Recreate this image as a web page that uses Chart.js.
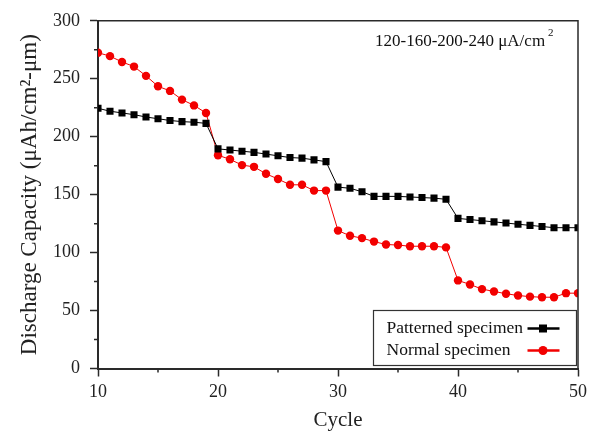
<!DOCTYPE html>
<html>
<head>
<meta charset="utf-8">
<script src="https://cdn.jsdelivr.net/npm/chart.js@4.4.1/dist/chart.umd.min.js"></script>
<style>
  body { margin: 0; background: #fff; }
  #wrap { width: 597px; height: 431px; }
</style>
</head>
<body>
<div id="wrap"><canvas id="capacity"></canvas></div>
<script>
const cycles = [10, 11, 12, 13, 14, 15, 16, 17, 18, 19, 20, 21, 22, 23, 24, 25, 26, 27, 28, 29, 30,
  31, 32, 33, 34, 35, 36, 37, 38, 39, 40, 41, 42, 43, 44, 45, 46, 47, 48, 49, 50];
const patterned = [224.5, 222, 220.5, 219, 217, 215.5, 214, 213, 212.5, 211.5,
  189.5, 188.5, 187.5, 186.5, 185, 183.5, 182, 181.5, 180, 178.5,
  156.5, 155.5, 152.5, 148.5, 148.5, 148.5, 148, 147.5, 147, 146,
  129.5, 128.5, 127.5, 126.5, 125.5, 124.5, 123.5, 122.5, 121.5, 121.5, 121.5];
const normal = [272.5, 269.5, 264.5, 260.5, 252.5, 243.5, 239.5, 232, 227, 220.5,
  184, 180.5, 175.5, 174, 168, 163.5, 158.5, 158.5, 153.5, 153.5,
  119, 114.5, 112.5, 109.5, 107, 106.5, 105.5, 105.5, 105.5, 104.5,
  76, 72.5, 68.5, 66.5, 64.5, 63, 62, 61.5, 61.5, 65, 65];
const seriesNames = ['Patterned specimen', 'Normal specimen'];
const xTicks = [10, 20, 30, 40, 50];
const yTicks = [0, 50, 100, 150, 200, 250, 300];
const currentNote = '120-160-200-240 \u03bcA/cm';

const serif = "'Liberation Serif', 'Times New Roman', serif";
const axisColor = '#2a2a2a';

function toPoints(values) {
  return cycles.map((c, i) => ({ x: c, y: values[i] }));
}

// frame, minor ticks, note and legend box
const extras = {
  id: 'extras',
  afterDraw(chart) {
    const ctx = chart.ctx;
    const a = chart.chartArea;
    const xs = chart.scales.x, ys = chart.scales.y;
    ctx.save();
    ctx.strokeStyle = axisColor;
    ctx.lineWidth = 1.5;
    ctx.beginPath();
    ctx.moveTo(a.left, a.top); ctx.lineTo(a.right, a.top); ctx.lineTo(a.right, a.bottom);
    ctx.stroke();

    // minor ticks
    ctx.beginPath();
    for (let v = 15; v < 50; v += 10) {
      const px = xs.getPixelForValue(v);
      ctx.moveTo(px, a.bottom); ctx.lineTo(px, a.bottom + 4);
    }
    for (let v = 25; v < 300; v += 50) {
      const py = ys.getPixelForValue(v);
      ctx.moveTo(a.left, py); ctx.lineTo(a.left - 4, py);
    }
    ctx.stroke();

    // current density note
    ctx.fillStyle = '#111';
    ctx.font = '17px ' + serif;
    ctx.textBaseline = 'alphabetic';
    ctx.textAlign = 'left';
    const noteX = a.right - 203;
    ctx.fillText(currentNote, noteX, a.top + 25);
    const w = ctx.measureText(currentNote).width;
    ctx.font = '11px ' + serif;
    ctx.fillText('2', noteX + w + 3, a.top + 15);

    // legend
    const bx = a.right - 204.5, by = a.bottom - 58;
    ctx.strokeStyle = '#333';
    ctx.lineWidth = 1.2;
    ctx.strokeRect(bx, by, 203, 55);
    ctx.font = '17.5px ' + serif;
    const sets = chart.data.datasets;
    for (let i = 0; i < sets.length; i++) {
      const ty = by + 22 + i * 22;
      ctx.fillStyle = '#111';
      ctx.fillText(seriesNames[i], bx + 13, ty);
      const ly = ty - 4;
      ctx.strokeStyle = sets[i].borderColor;
      ctx.lineWidth = 2.5;
      ctx.beginPath();
      ctx.moveTo(bx + 154, ly); ctx.lineTo(bx + 186, ly);
      ctx.stroke();
      ctx.fillStyle = sets[i].pointBackgroundColor;
      ctx.beginPath();
      if (sets[i].pointStyle === 'rect') {
        ctx.rect(bx + 165.5, ly - 4, 8, 8);
      } else {
        ctx.arc(bx + 169.5, ly, 4.5, 0, Math.PI * 2);
      }
      ctx.fill();
    }
    ctx.restore();
  }
};

new Chart(document.getElementById('capacity'), {
  type: 'line',
  data: {
    datasets: [
      {
        label: seriesNames[0],
        data: toPoints(patterned),
        borderColor: '#000',
        borderWidth: 1,
        pointStyle: 'rect',
        pointRadius: 5,
        pointBackgroundColor: '#000',
        pointBorderWidth: 0,
      },
      {
        label: seriesNames[1],
        data: toPoints(normal),
        borderColor: '#f20000',
        borderWidth: 1,
        pointStyle: 'circle',
        pointRadius: 4.2,
        pointBackgroundColor: '#f20000',
        pointBorderWidth: 0,
      }
    ]
  },
  options: {
    responsive: true,
    maintainAspectRatio: false,
    animation: false,
    layout: { padding: { top: 18, right: 19, left: 0, bottom: 0 } },
    plugins: {
      legend: { display: false },
      tooltip: { enabled: false },
    },
    scales: {
      x: {
        type: 'linear',
        min: 10,
        max: 50,
        afterBuildTicks(scale) { scale.ticks = xTicks.map(v => ({ value: v })); },
        afterFit(scale) { scale.height = 62.5; },
        grid: { drawOnChartArea: false, tickLength: 8, tickColor: axisColor, tickWidth: 1.5 },
        border: { color: axisColor, width: 2 },
        ticks: { color: '#222', font: { family: serif, size: 18 }, padding: 5, maxRotation: 0 },
        title: { display: true, text: 'Cycle', color: '#222', font: { family: serif, size: 21, lineHeight: 1 }, padding: { top: 2, bottom: 0 } },
      },
      y: {
        min: 0,
        max: 300,
        afterBuildTicks(scale) { scale.ticks = yTicks.map(v => ({ value: v })); },
        afterFit(scale) { scale.width = 98; },
        grid: { drawOnChartArea: false, tickLength: 8, tickColor: axisColor, tickWidth: 1.5 },
        border: { color: axisColor, width: 2 },
        ticks: { color: '#222', font: { family: serif, size: 18 }, padding: 10 },
        title: { display: true, text: 'Discharge Capacity (\u03bcAh/cm\u00b2-\u03bcm)', color: '#222', font: { family: serif, size: 23, lineHeight: 1 }, padding: { top: 18, bottom: 4 } },
      }
    }
  },
  plugins: [extras]
});
</script>
</body>
</html>
